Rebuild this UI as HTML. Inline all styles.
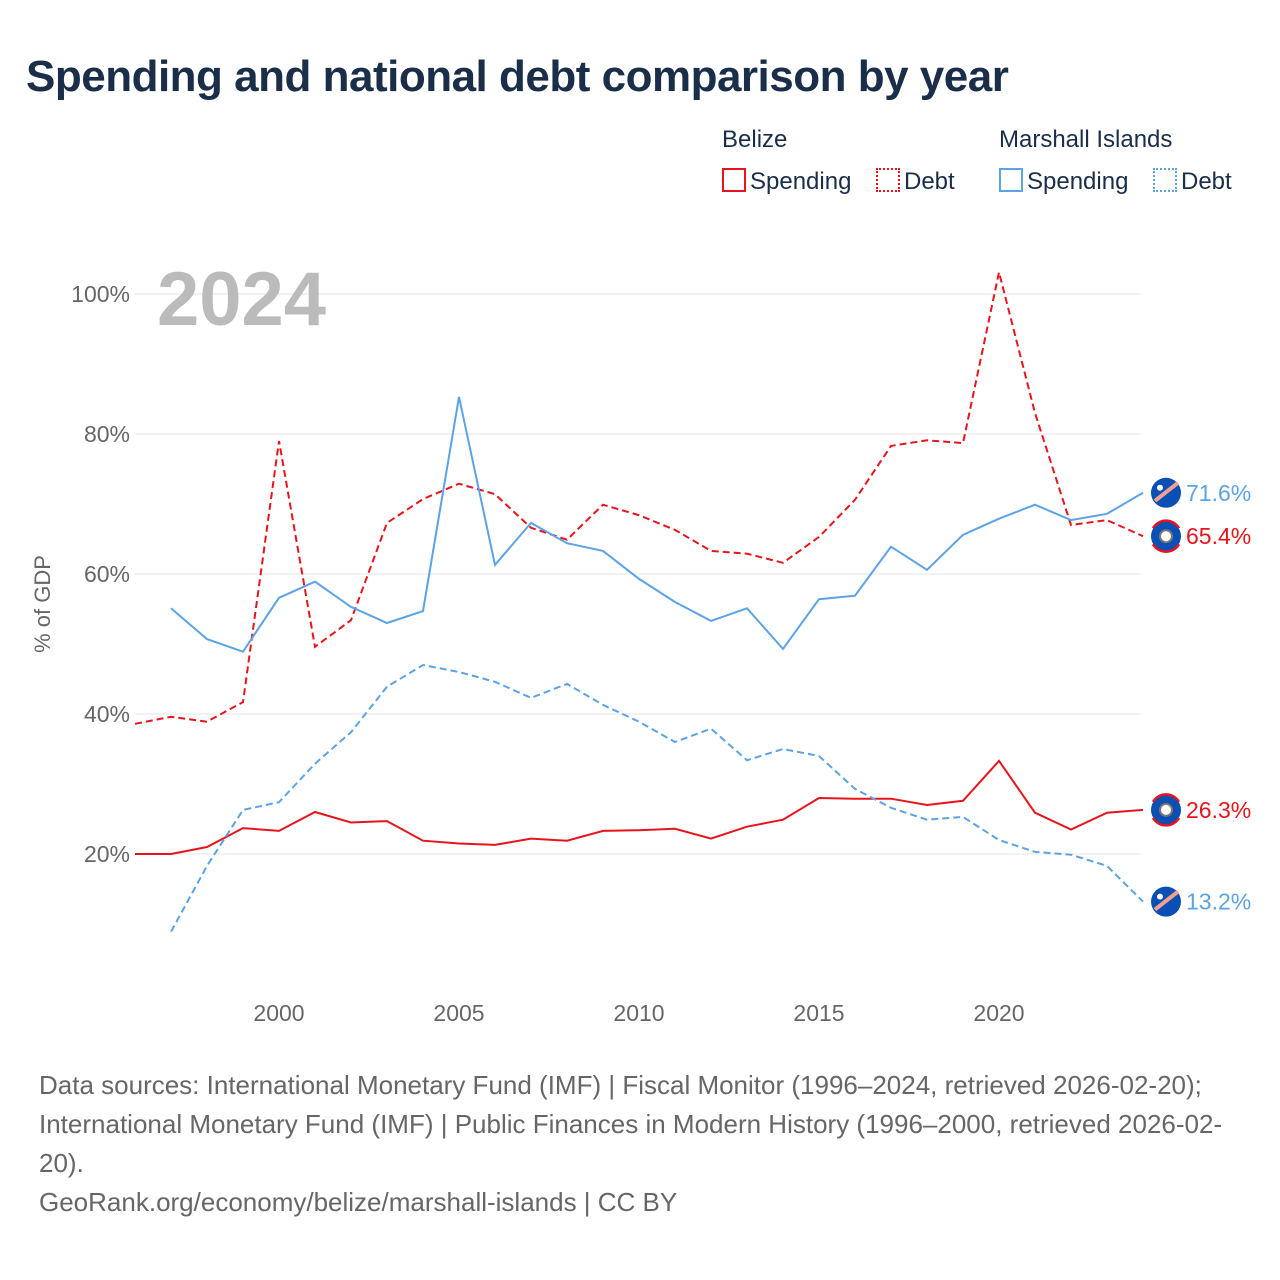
<!DOCTYPE html>
<html><head><meta charset="utf-8"><style>
body{margin:0;background:#fff;font-family:"Liberation Sans",sans-serif;}
#wrap{position:relative;width:1280px;height:1280px;overflow:hidden;}
h1{position:absolute;left:26px;top:52px;margin:0;font-size:44px;font-weight:bold;color:#1a2e4a;letter-spacing:-0.5px;}
.t{position:absolute;color:#1a2e4a;font-size:24px;}
.box{display:inline-block;width:20px;height:20px;vertical-align:-3px;margin-right:4px;}
.src{position:absolute;left:39px;top:1066px;font-size:26px;line-height:39px;color:#666;width:1230px;}
</style></head><body>
<div id="wrap">
<h1>Spending and national debt comparison by year</h1>
<div class="t" style="left:722px;top:126px">Belize</div>
<div class="t" style="left:999px;top:126px">Marshall Islands</div>
<div class="t" style="left:722px;top:168px"><span class="box" style="border:2px solid #e8141b"></span>Spending</div>
<div class="t" style="left:876px;top:168px"><span class="box" style="border:2px dotted #e8141b"></span>Debt</div>
<div class="t" style="left:999px;top:168px"><span class="box" style="border:2px solid #5ca3e6"></span>Spending</div>
<div class="t" style="left:1153px;top:168px"><span class="box" style="border:2px dotted #5ca3e6"></span>Debt</div>
<svg id="svg" width="1280" height="1280" style="position:absolute;left:0;top:0"></svg>
<div class="src">Data sources: International Monetary Fund (IMF) | Fiscal Monitor (1996–2024, retrieved 2026-02-20);<br>International Monetary Fund (IMF) | Public Finances in Modern History (1996–2000, retrieved 2026-02-<br>20).<br>GeoRank.org/economy/belize/marshall-islands | CC BY</div>
</div>
<script>
const yTicks=[20,40,60,80,100];
const xTicks=[2000,2005,2010,2015,2020];
const belizeYears=[1996,1997,1998,1999,2000,2001,2002,2003,2004,2005,2006,2007,2008,2009,2010,2011,2012,2013,2014,2015,2016,2017,2018,2019,2020,2021,2022,2023,2024];
const belizeSpending=[20,20,21,23.7,23.3,26,24.5,24.7,21.9,21.5,21.3,22.2,21.9,23.3,23.4,23.6,22.2,23.9,24.9,28,27.9,27.9,27,27.6,33.3,25.9,23.5,25.9,26.3];
const belizeDebt=[38.6,39.6,38.9,41.7,79,49.6,53.4,67.3,70.7,72.9,71.4,66.6,64.9,69.9,68.4,66.3,63.3,62.9,61.6,65.3,70.6,78.3,79.1,78.7,103.1,83,67,67.7,65.4];
const mhYears=[1997,1998,1999,2000,2001,2002,2003,2004,2005,2006,2007,2008,2009,2010,2011,2012,2013,2014,2015,2016,2017,2018,2019,2020,2021,2022,2023,2024];
const mhSpending=[55.1,50.7,48.9,56.6,58.9,55.3,53,54.7,85.3,61.3,67.3,64.4,63.3,59.3,56,53.3,55.1,49.3,56.4,56.9,63.9,60.6,65.6,67.9,69.9,67.7,68.6,71.6];
const mhDebt=[8.9,18.3,26.3,27.4,32.9,37.4,43.9,47,46,44.6,42.3,44.3,41.3,38.9,36,37.9,33.4,35,34,29.3,26.6,24.9,25.3,22,20.3,19.9,18.3,13.2];
const X=y=>135+(y-1996)*36, Y=v=>994-7*v;
const svg=document.getElementById('svg'),NS='http://www.w3.org/2000/svg';
function mk(t,a,p){const e=document.createElementNS(NS,t);for(const k in a)e.setAttribute(k,a[k]);(p||svg).appendChild(e);return e;}
yTicks.forEach(v=>{
 const l=mk('line',{x1:135,x2:1141,y1:Y(v),y2:Y(v),stroke:'#e6e6e6','stroke-width':1});
 
 
 const t=mk('text',{x:130,y:Y(v)+8,'text-anchor':'end','font-size':23,fill:'#666','font-family':'Liberation Sans'});
 t.textContent=v+'%';
 
 
});
xTicks.forEach(v=>{
 const t=mk('text',{x:X(v),y:1021,'text-anchor':'middle','font-size':23,fill:'#666','font-family':'Liberation Sans'});
 t.textContent=v;
 
 
});
const yt=mk('text',{x:0,y:0,transform:'translate(50,604) rotate(-90)','text-anchor':'middle','font-size':22,fill:'#666','font-family':'Liberation Sans'});
yt.textContent='% of GDP';


const yr=mk('text',{x:157,y:325,'font-size':76,'font-weight':'bold',fill:'#bbb','font-family':'Liberation Sans'});
yr.textContent='2024';


function series(years,vals,color,dash,name){
 const d=years.map((y,i)=>(i?'L':'M')+X(y)+','+Y(vals[i])).join(' ');
 const p=mk('path',{d:d,fill:'none',stroke:color,'stroke-width':2,'stroke-dasharray':dash});
 
 
 const v=vals[vals.length-1],cy=Y(v);
 const g=mk('g',{});
 
 
 mk('circle',{cx:1166,cy:cy,r:15,fill:'#0a4fb3'},g);
 if(color==='#e8141b'){mk('path',{d:`M1153,${cy-8}A15,15 0 0 1 1179,${cy-8}`,stroke:'#e8141b','stroke-width':2.5,fill:'none'},g);mk('path',{d:`M1153,${cy+8}A15,15 0 0 0 1179,${cy+8}`,stroke:'#e8141b','stroke-width':2.5,fill:'none'},g);mk('circle',{cx:1166,cy:cy,r:6,fill:'#fff',stroke:'#777','stroke-width':2},g);}
 else{mk('path',{d:`M1155,${cy+8}L1178,${cy-10}`,stroke:'#f4a090','stroke-width':4},g);mk('circle',{cx:1160,cy:cy-5,r:3,fill:'#fff'},g);}
 const t=mk('text',{x:1186,y:cy+8,'font-size':23,fill:color,'font-family':'Liberation Sans'},g);
 t.textContent=v.toFixed(1)+'%';
}
series(belizeYears,belizeDebt,'#e8141b','7,4','belize-debt-line');
series(belizeYears,belizeSpending,'#e8141b','','belize-spending-line');
series(mhYears,mhDebt,'#5ca3e6','7,4','marshall-debt-line');
series(mhYears,mhSpending,'#5ca3e6','','marshall-spending-line');
</script>
</body></html>
